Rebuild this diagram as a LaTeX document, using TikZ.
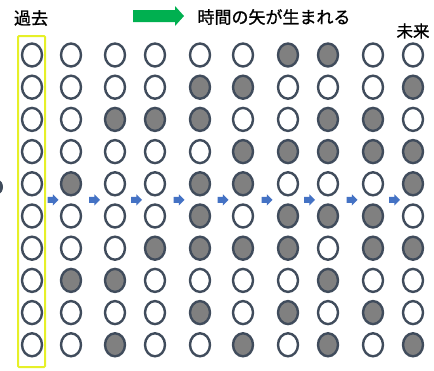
\documentclass[tikz,border=0pt]{standalone}
\usepackage{fontspec}
\newfontfamily\jpfont[FakeBold=1]{Noto Sans CJK JP}
\usetikzlibrary{shapes,calc}
\definecolor{ringcol}{RGB}{64,76,92}
\definecolor{ballgray}{RGB}{128,128,128}
\definecolor{arrowblue}{RGB}{68,114,196}
\definecolor{titlegreen}{RGB}{0,176,80}
\definecolor{pastbox}{RGB}{230,240,40}

\begin{document}
\begin{tikzpicture}[x=1pt,y=-1pt,
  ball/.style={ellipse,draw=ringcol,line width=2.4pt,minimum width=20pt,minimum height=23pt,inner sep=0pt},
  ball0/.style={fill=white},
  ball1/.style={fill=ballgray},
  flowarrow/.style={single arrow,fill=arrowblue,minimum height=11pt,inner sep=2.8pt,single arrow head extend=2.6pt},
  label/.style={font=\jpfont\fontsize{17}{17}\selectfont,inner sep=0pt}]
\useasboundingbox (0,0) rectangle (434,370);
\fill[ringcol] (-2,187) ellipse (5 and 7);
\node[label] (past) at (31,18) {過去};
\fill[titlegreen] (133,10) -- (175,10) -- (175,6) -- (184,16) -- (175,26) -- (175,22) -- (133,22) -- cycle;
\node[label] (title) at (274,17) {時間の矢が生まれる};
\node[label,font=\jpfont\fontsize{16.5}{16.5}\selectfont] (future) at (413,31) {未来};
\draw[pastbox,line width=2pt,rounded corners=1pt] (18,36) rectangle (45,367);
\foreach \c/\x/\bits in {0/32/{0,0,0,0,0,0,0,0,0,0},
                         1/71/{0,0,0,0,1,0,0,1,0,0},
                         2/115/{0,0,1,0,0,0,0,1,0,1},
                         3/155/{0,0,1,0,0,0,1,0,0,0},
                         4/200/{0,1,1,0,1,1,1,0,1,0},
                         5/243/{0,1,0,1,1,0,1,0,0,1},
                         6/288/{1,0,0,1,0,1,1,0,1,0},
                         7/328/{1,0,1,1,0,1,0,1,0,1},
                         8/373/{0,0,1,1,0,1,1,0,1,0},
                         9/413/{0,1,0,1,1,0,1,0,0,1}}
  \foreach \v [count=\r from 0] in \bits
    \node[ball,ball\v] (c\c-\r) at (\x,{55+32.2*\r}) {};
\foreach \p/\c in {0/1,1/2,2/3,3/4,4/5,5/6,6/7,7/8,8/9}
  \node[flowarrow] (arr\c) at ($(c\p-4)!.5!(c\c-5)$) {};
\end{tikzpicture}
\end{document}
